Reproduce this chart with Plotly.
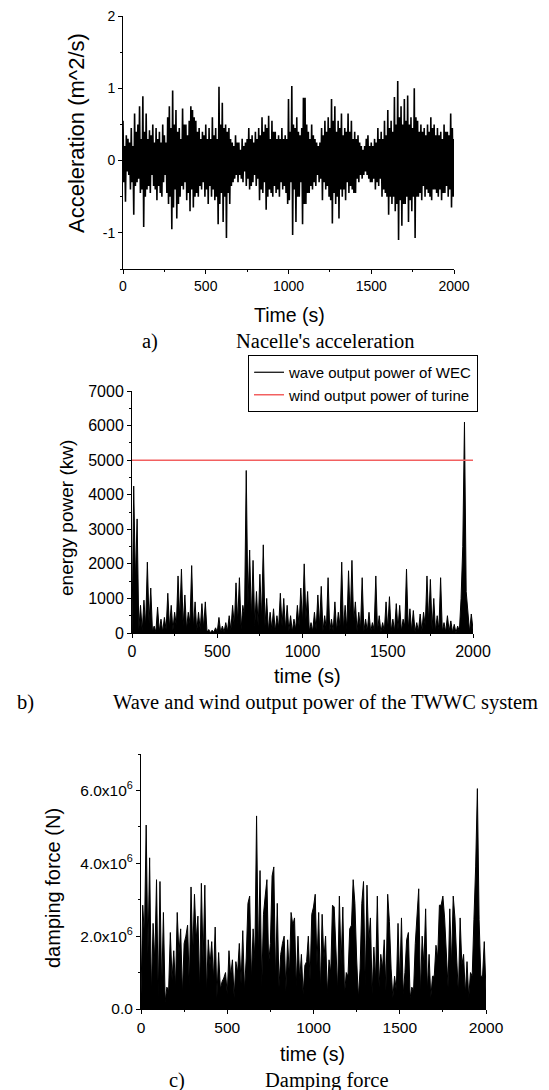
import plotly.graph_objects as go

W, H = 549, 1090

# ---------------- data ----------------
accel_t = list(range(0, 2001, 5))  # s
accel = [
    0.55, -0.3, 0.2, -0.57, 0.35, -0.15, 0.3, -0.2, 0.25, -0.4, 0.45, -0.3, 0.2, -0.75, 0.65, -0.35, 0.4, -0.3, 0.5, -0.25,
    0.75, -0.45, 0.3, -0.4, 0.89, -0.92, 0.4, -0.5, 0.65, -0.4, 0.3, -0.35, 0.42, -0.45, 0.35, -0.2, 0.5, -0.35, 0.25, -0.4,
    0.45, -0.55, 0.3, -0.35, 0.4, -0.45, 0.25, -0.5, 0.5, -0.3, 0.35, -0.2, 0.25, -0.45, 0.6, -0.6, 0.75, -0.5, 0.45, -0.95,
    0.97, -0.65, 0.5, -0.4, 0.7, -0.8, 0.4, -0.6, 0.45, -0.5, 0.3, -0.35, 0.72, -0.4, 0.5, -0.3, 0.5, -0.55, 0.35, -0.45,
    0.55, -0.7, 0.75, -0.4, 0.7, -0.65, 0.6, -0.5, 0.55, -0.45, 0.4, -0.5, 0.45, -0.35, 0.3, -0.4, 0.4, -0.3, 0.35, -0.5,
    0.5, -0.4, 0.3, -0.6, 0.45, -0.35, 0.3, -0.5, 0.6, -0.4, 0.35, -0.55, 0.45, -0.5, 0.3, -0.88, 1.02, -0.6, 0.5, -0.45,
    0.8, -0.85, 0.45, -0.5, 0.5, -1.07, 0.4, -0.45, 0.45, -0.6, 0.3, -0.35, 0.25, -0.3, 0.2, -0.25, 0.35, -0.2, 0.25, -0.3,
    0.25, -0.2, 0.15, -0.25, 0.3, -0.3, 0.2, -0.15, 0.25, -0.35, 0.3, -0.25, 0.45, -0.4, 0.3, -0.35, 0.35, -0.3, 0.25, -0.2,
    0.4, -0.35, 0.3, -0.25, 0.45, -0.55, 0.35, -0.4, 0.6, -0.45, 0.4, -0.3, 0.5, -0.68, 0.45, -0.5, 0.62, -0.4, 0.3, -0.45,
    0.55, -0.5, 0.4, -0.35, 0.4, -0.45, 0.3, -0.4, 0.35, -0.5, 0.3, -0.3, 0.45, -0.4, 0.3, -0.35, 0.35, -0.45, 0.3, -0.6,
    0.85, -0.55, 0.4, -0.3, 1.03, -1.03, 0.5, -0.4, 0.45, -0.85, 0.6, -0.5, 0.4, -0.5, 0.35, -0.3, 0.45, -0.88, 0.87, -0.6,
    0.87, -0.6, 0.5, -0.45, 0.4, -0.45, 0.3, -0.35, 0.5, -0.4, 0.35, -0.3, 0.3, -0.35, 0.25, -0.2, 0.2, -0.3, 0.25, -0.25,
    0.45, -0.55, 0.35, -0.3, 0.55, -0.4, 0.4, -0.35, 0.6, -0.5, 0.45, -0.55, 0.85, -0.87, 0.55, -0.45, 0.75, -0.6, 0.4, -0.5,
    0.55, -0.8, 0.45, -0.4, 0.65, -0.5, 0.35, -0.4, 0.45, -0.55, 0.4, -0.3, 0.65, -0.45, 0.4, -0.35, 0.55, -0.4, 0.3, -0.45,
    0.4, -0.45, 0.3, -0.25, 0.35, -0.3, 0.25, -0.2, 0.2, -0.25, 0.15, -0.2, 0.2, -0.15, 0.3, -0.2, 0.35, -0.25, 0.2, -0.3,
    0.25, -0.3, 0.2, -0.25, 0.3, -0.4, 0.25, -0.3, 0.45, -0.35, 0.3, -0.25, 0.4, -0.5, 0.3, -0.4, 0.55, -0.45, 0.35, -0.5,
    0.7, -0.75, 0.45, -0.5, 0.55, -0.6, 0.4, -0.5, 0.88, -0.7, 0.5, -0.6, 1.1, -1.1, 0.6, -0.55, 0.75, -0.9, 0.5, -0.6,
    0.85, -0.6, 0.55, -0.5, 0.9, -0.85, 0.5, -0.55, 0.6, -0.7, 0.45, -0.5, 1.0, -1.07, 0.6, -0.5, 0.55, -0.5, 0.4, -0.45,
    0.5, -0.55, 0.4, -0.35, 0.45, -0.5, 0.35, -0.4, 0.5, -0.45, 0.4, -0.5, 0.6, -0.55, 0.45, -0.4, 0.5, -0.4, 0.35, -0.45,
    0.45, -0.5, 0.35, -0.4, 0.4, -0.55, 0.3, -0.45, 0.5, -0.45, 0.4, -0.35, 0.4, -0.5, 0.35, -0.4, 0.65, -0.65, 0.45, -0.5,
    0.3,
]

# wave output power (kW): local maxima at t = 10, 30, ..., 1990 s
power_peaks = [
    4250, 3300, 800, 950, 2050, 1300, 200, 750, 400, 450,
    1150, 800, 600, 1650, 1850, 1100, 600, 1950, 900, 600,
    850, 900, 100, 80, 150, 450, 200, 300, 500, 800,
    1450, 1600, 800, 4700, 2400, 2100, 1200, 1700, 2550, 1000,
    600, 700, 500, 1150, 1000, 800, 500, 400, 800, 1300,
    2000, 1200, 300, 600, 1100, 1350, 500, 1600, 400, 900,
    600, 2050, 800, 1800, 2100, 900, 600, 1600, 400, 600,
    300, 1650, 500, 300, 900, 1050, 400, 850, 800, 400,
    1850, 700, 650, 300, 550, 600, 1650, 1550, 1000, 500,
    1600, 300, 500, 350, 250, 200, 1000, 6100, 500, 550,
]
# local minima at t = 0, 20, ..., 2000 s
power_troughs = [
    0, 1500, 100, 50, 200, 300, 50, 30, 50, 30,
    100, 150, 80, 200, 400, 200, 100, 300, 150, 50,
    100, 150, 20, 10, 20, 30, 20, 30, 50, 80,
    200, 300, 100, 500, 800, 400, 200, 200, 400, 200,
    50, 100, 50, 150, 200, 100, 50, 30, 100, 200,
    300, 400, 50, 50, 100, 200, 50, 100, 50, 50,
    50, 200, 100, 100, 400, 300, 50, 100, 50, 50,
    30, 100, 50, 20, 50, 100, 50, 50, 100, 50,
    200, 100, 50, 30, 50, 50, 200, 300, 100, 50,
    100, 50, 30, 50, 20, 10, 50, 2500, 1200, 30,
    100,
]

wind_t = [0, 2000]
wind_power = [5000, 5000]  # kW

# damping force (x10^6 N): maxima at t = 10, 30, ..., 1990 s
force_peaks_MN = [
    2.85, 5.05, 4.15, 2.35, 3.55, 3.5, 2.65, 0.6, 2.1, 1.6,
    2.65, 2.2, 1.8, 2.3, 3.35, 3.15, 2.55, 3.45, 3.4, 1.9,
    1.85, 2.25, 1.55, 0.75, 1.0, 1.6, 1.35, 1.3, 1.8, 2.15,
    1.4, 3.1, 2.2, 5.3, 3.8, 2.6, 3.55, 1.8, 3.9, 2.9,
    1.5, 2.0, 1.9, 2.65, 2.5, 2.0, 1.5, 1.2, 2.0, 2.6,
    3.15, 2.65, 2.6, 2.0, 1.35, 2.85, 1.4, 3.1, 2.8, 1.0,
    2.2, 3.55, 1.4, 1.1, 3.5, 3.4, 2.5, 1.7, 3.1, 1.5,
    1.9, 3.15, 1.1, 0.9, 2.35, 2.5, 1.0, 2.1, 0.6, 1.8,
    3.3, 2.0, 2.75, 1.5, 0.9, 1.75, 2.85, 3.1, 1.5, 2.75,
    3.1, 1.4, 2.5, 1.5, 1.3, 1.0, 2.45, 6.05, 0.9, 1.85,
]
# minima at t = 0, 20, ..., 2000 s
force_troughs_MN = [
    0.4, 2.0, 1.5, 0.4, 1.3, 0.3, 0.5, 0.2, 0.5, 0.8,
    0.6, 1.5, 0.4, 2.0, 0.6, 1.5, 1.9, 0.5, 1.3, 0.4,
    1.2, 0.8, 0.3, 0.55, 0.85, 0.4, 0.9, 0.3, 1.0, 0.7,
    0.5, 2.9, 0.8, 1.4, 1.4, 0.6, 3.1, 1.25, 3.65, 0.8,
    0.6, 1.8, 0.5, 0.9, 2.3, 0.6, 0.8, 0.4, 1.3, 0.8,
    2.8, 1.2, 0.5, 1.35, 0.4, 1.0, 2.8, 0.5, 1.2, 0.4,
    0.9, 2.3, 2.9, 0.3, 2.9, 0.6, 1.8, 0.4, 0.8, 0.6,
    1.1, 0.5, 2.4, 0.3, 0.5, 0.7, 0.4, 1.9, 0.3, 0.5,
    2.75, 0.4, 1.2, 0.5, 0.3, 0.9, 1.4, 2.85, 2.5, 0.6,
    1.2, 2.5, 0.4, 1.2, 0.4, 0.3, 0.9, 3.9, 2.45, 0.9,
    0.5,
]

acc_ticks = [-1, 0, 1, 2]
acc_ticktext = ["-1", "0", "1", "2"]
force_ticks = [0, 2e6, 4e6, 6e6]
force_ticktext = ["0.0", "2.0x10<sup>6</sup>", "4.0x10<sup>6</sup>", "6.0x10<sup>6</sup>"]


def interleave(troughs, peaks):
    out = []
    for i, v in enumerate(troughs):
        out.append(v)
        if i < len(peaks):
            out.append(peaks[i])
    return out


power_t = list(range(0, 2001, 10))
power = interleave(power_troughs, power_peaks)
force_t = list(range(0, 2001, 10))
force = [v * 1e6 for v in interleave(force_troughs_MN, force_peaks_MN)]

# ---------------- figure ----------------
SANS = "Liberation Sans, Arial, sans-serif"
SERIF = "Liberation Serif, Times New Roman, serif"

fig = go.Figure()
fig.add_trace(go.Scatter(x=accel_t, y=accel, mode="lines",
                         line=dict(color="black", width=1.6),
                         showlegend=False, xaxis="x", yaxis="y"))
fig.add_trace(go.Scatter(x=power_t, y=power, mode="lines",
                         line=dict(color="black", width=1),
                         fill="tozeroy", fillcolor="black",
                         showlegend=False, xaxis="x2", yaxis="y2"))
# legend entries (line samples only)
fig.add_trace(go.Scatter(x=[None], y=[None], mode="lines",
                         line=dict(color="black", width=1.2),
                         name="wave output power of WEC", xaxis="x2", yaxis="y2"))
fig.add_trace(go.Scatter(x=wind_t, y=wind_power, mode="lines",
                         line=dict(color="#f26060", width=1.5),
                         name="wind output power of turine", xaxis="x2", yaxis="y2"))
fig.add_trace(go.Scatter(x=force_t, y=force, mode="lines",
                         line=dict(color="black", width=1),
                         fill="tozeroy", fillcolor="black",
                         showlegend=False, xaxis="x3", yaxis="y3"))


def px_x(p):
    return p / W


def px_y(p):
    return 1 - p / H


def ax(**kw):
    base = dict(showline=True, linecolor="black", linewidth=1, mirror=False,
                ticks="outside", ticklen=4, tickwidth=1, tickcolor="black",
                showgrid=False, zeroline=False, automargin=False,
                tickfont=dict(family=SANS, size=14, color="black"))
    base.update(kw)
    return base


minor_x = dict(ticks="outside", ticklen=2, tickcolor="black", dtick=250, tick0=0, showgrid=False)

fig.update_layout(
    width=W, height=H, autosize=False,
    margin=dict(l=0, r=0, t=0, b=0, pad=0),
    paper_bgcolor="white", plot_bgcolor="white",
    font=dict(family=SANS, color="black"),
    xaxis=ax(domain=[px_x(123), px_x(454)], range=[0, 2000], tick0=0, dtick=500,
             minor=minor_x, anchor="y"),
    yaxis=ax(domain=[px_y(269), px_y(16)], range=[-1.5, 2], tickmode="array",
             tickvals=acc_ticks, ticktext=acc_ticktext, anchor="x",
             minor=dict(ticks="outside", ticklen=2, tickcolor="black", dtick=0.5,
                        tick0=0, showgrid=False)),
    xaxis2=ax(domain=[px_x(132), px_x(473)], range=[0, 2000], tick0=0, dtick=500,
              minor=minor_x, anchor="y2", tickfont=dict(family=SANS, size=16, color="black")),
    yaxis2=ax(domain=[px_y(633), px_y(391)], range=[0, 7000], tick0=0, dtick=1000,
              anchor="x2", tickfont=dict(family=SANS, size=16, color="black"),
              minor=dict(ticks="outside", ticklen=2, tickcolor="black", dtick=500,
                         tick0=0, showgrid=False)),
    xaxis3=ax(domain=[px_x(141), px_x(486)], range=[0, 2000], tick0=0, dtick=500,
              minor=minor_x, anchor="y3", tickfont=dict(family=SANS, size=15.5, color="black")),
    yaxis3=ax(domain=[px_y(1009), px_y(754)], range=[0, 7e6], tickmode="array",
              tickvals=force_ticks, ticktext=force_ticktext, anchor="x3",
              tickfont=dict(family=SANS, size=15.5, color="black"),
              minor=dict(ticks="outside", ticklen=2, tickcolor="black", dtick=1e6,
                         tick0=0, showgrid=False)),
    legend=dict(x=px_x(248), y=px_y(355), xanchor="left", yanchor="top",
                bordercolor="black", borderwidth=1, bgcolor="white",
                font=dict(family=SANS, size=15, color="black"),
                itemwidth=30, tracegroupgap=0),
)


def note(text, x, y, size, family=SANS, angle=0, xanchor="center"):
    fig.add_annotation(text=text, x=px_x(x), y=px_y(y), xref="paper", yref="paper",
                       showarrow=False, textangle=angle, xanchor=xanchor, yanchor="middle",
                       font=dict(family=family, size=size, color="black"))


# axis titles
note("Acceleration (m^2/s)", 77, 133, 22, angle=-90)
note("Time (s)", 289, 315, 19.5)
note("energy power (kw)", 66, 518, 19, angle=-90)
note("time (s)", 307, 676, 20)
note("damping force (N)", 53, 888, 20, angle=-90)
note("time (s)", 312, 1054, 19.5)

# captions
note("a)", 150, 341, 20.5, family=SERIF)
note("Nacelle's acceleration", 325, 341, 20.5, family=SERIF)
note("b)", 25, 702, 20.5, family=SERIF)
note("Wave and wind output power of the TWWC system", 111, 702, 20.5, family=SERIF, xanchor="left")
note("c)", 177, 1080, 20.5, family=SERIF)
note("Damping force", 327, 1080, 20.5, family=SERIF)

fig.write_html(
    "out.html",
    config={"displayModeBar": False, "staticPlot": True},
    post_script="document.body.style.margin='0';document.body.style.padding='0';"
                "document.documentElement.style.overflow='hidden';",
)
